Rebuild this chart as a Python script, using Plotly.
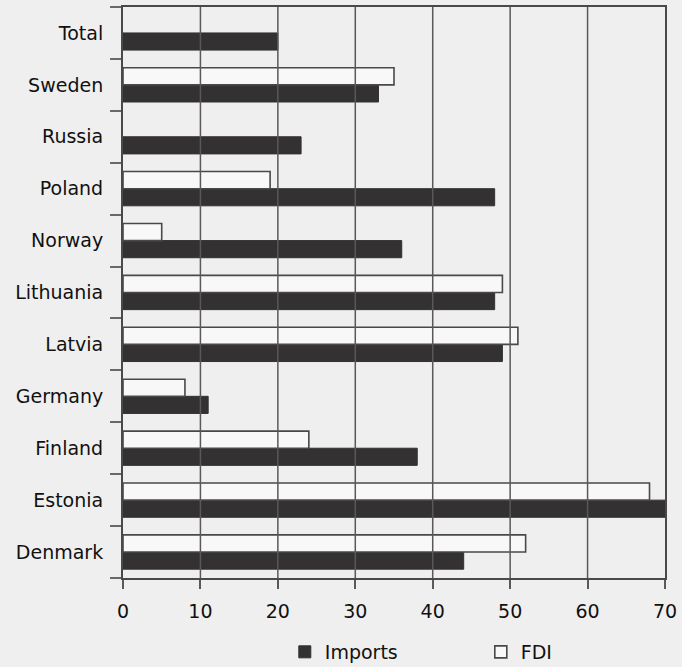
import plotly.graph_objects as go

# Data (bottom to top as plotted)
countries = ["Denmark", "Estonia", "Finland", "Germany", "Latvia", "Lithuania",
             "Norway", "Poland", "Russia", "Sweden", "Total"]
imports = [44, 70, 38, 11, 49, 48, 36, 48, 23, 33, 20]
fdi = [52, 68, 24, 8, 51, 49, 5, 19, None, 35, None]
x_ticks = [0, 10, 20, 30, 40, 50, 60, 70]

FONT = "DejaVu Sans"
BG = "#efefef"
DARK = "#333131"

fig = go.Figure()
fig.add_trace(go.Bar(
    y=countries, x=imports, orientation="h", name="Imports",
    marker=dict(color=DARK, line=dict(color=DARK, width=1)),
))
fig.add_trace(go.Bar(
    y=countries, x=fdi, orientation="h", name="FDI",
    marker=dict(color="#f8f8f8", line=dict(color="#4a4848", width=1.6)),
))

# vertical grid lines drawn above the bars
for v in x_ticks[1:-1]:
    fig.add_shape(type="line", xref="x", yref="paper", x0=v, x1=v, y0=0, y1=1,
                  line=dict(color="#5a5858", width=1.5), layer="above")

fig.update_layout(
    width=682, height=667,
    paper_bgcolor=BG, plot_bgcolor=BG,
    margin=dict(l=123, r=17, t=7, b=89, autoexpand=False),
    barmode="group", bargap=0.34, bargroupgap=0.0,
    font=dict(family=FONT, size=19, color="#111111"),
    showlegend=True,
    legend=dict(orientation="h", xref="container", yref="container",
                x=0.705, xanchor="center", y=0.0225, yanchor="middle",
                font=dict(size=19), entrywidth=151, bgcolor="rgba(0,0,0,0)",
                traceorder="normal"),
    xaxis=dict(range=[0, 70], tickvals=x_ticks, showgrid=False, zeroline=False,
               showline=True, mirror=True, linecolor="#4a4848", linewidth=2,
               ticks="outside", ticklen=9, tickwidth=1.5, tickcolor="#5a5858",
               ticklabelstandoff=6,
               tickfont=dict(size=19), fixedrange=True),
    yaxis=dict(type="category", categoryorder="array", categoryarray=countries,
               showgrid=False, zeroline=False, showline=True, mirror=True,
               linecolor="#4a4848", linewidth=2, ticks="outside", ticklen=11,
               tickwidth=2, tickcolor="#6a6868", tickson="boundaries",
               ticklabelstandoff=14,
               tickfont=dict(size=19)),
)

fig.write_html("out.html", config={"displayModeBar": False},
               post_script="document.body.style.margin='0';")
